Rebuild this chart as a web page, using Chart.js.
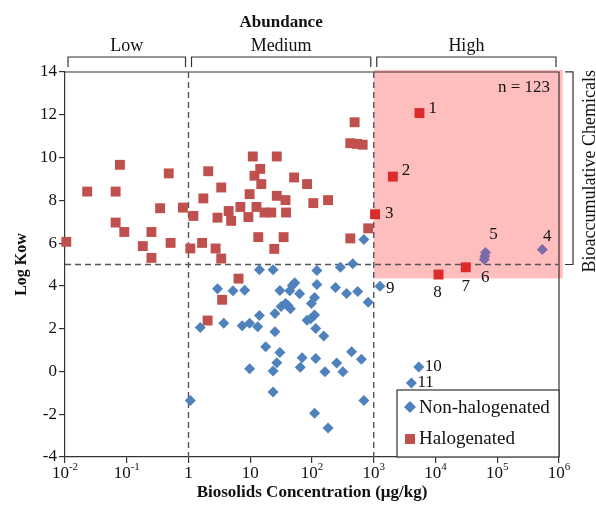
<!DOCTYPE html>
<html>
<head>
<meta charset="utf-8">
<script src="https://cdn.jsdelivr.net/npm/chart.js@4.4.1/dist/chart.umd.min.js"></script>
<style>
  body { margin: 0; background: #fff; }
  canvas { display: block; }
</style>
</head>
<body>
<canvas id="chart" width="596" height="510"></canvas>
<script>
"use strict";

// Non-halogenated chemicals (biosolids concentration in ug/kg, log Kow)
const nonHalConc = [14.1, 23.4, 120, 288, 457, 692, 2.95, 5.25, 8.13, 30.2, 43.7, 47.9,
  52.5, 63.1, 120, 240, 363, 550, 813, 110, 97.7, 31.6, 37.2, 40.7, 44.7, 25.1, 14.1,
  3.72, 1.55, 7.41, 9.77, 13.2, 25.1, 83.2, 95.5, 110, 115, 155, 17.8, 30.2, 26.9, 23.4,
  9.77, 69.2, 64.6, 115, 162, 251, 316, 437, 631, 23.4, 1.07, 692, 110, 182, 63100];
const nonHalLogKow = [4.76, 4.76, 4.72, 4.87, 5.03, 6.17, 3.87, 3.77, 3.80, 3.79, 3.77, 4.02,
  4.15, 3.63, 4.06, 3.93, 3.65, 3.74, 3.24, 3.46, 3.18, 3.04, 3.18, 3.08, 2.93, 2.71, 2.61,
  2.25, 2.05, 2.14, 2.25, 2.09, 1.86, 2.39, 2.46, 2.64, 2.01, 1.66, 1.15, 0.89, 0.41, 0.02,
  0.13, 0.64, 0.20, 0.60, -0.02, 0.39, -0.02, 0.92, 0.57, -0.96, -1.36, -1.36, -1.95, -2.64, 5.39];

// Halogenated chemicals
const halConc = [0.0105, 0.0229, 0.0661, 0.0776, 0.0661, 0.0912, 0.479, 0.347, 0.182, 0.251,
  0.251, 0.513, 0.813, 1.20, 1.07, 1.66, 1.74, 2.09, 3.39, 2.95, 4.47, 4.90, 2.75, 3.39,
  3.51, 2.04, 6.46, 11.0, 26.9, 14.5, 11.7, 15.1, 9.77, 6.92, 9.33, 12.6, 17.0, 21.9, 26.9,
  37.2, 38.0, 13.5, 34.7, 24.5, 51.3, 83.2, 105, 182, 490, 417, 537, 661, 417, 813];
const halLogKow = [6.06, 8.41, 8.41, 9.66, 6.96, 6.52, 9.26, 7.63, 5.86, 6.52,
  5.31, 6.01, 7.66, 7.27, 5.75, 6.01, 8.09, 9.36, 8.60, 7.19, 7.50, 7.04, 5.75, 5.28,
  3.35, 2.38, 4.34, 10.05, 10.05, 9.47, 9.15, 8.76, 8.29, 7.69, 7.22, 7.69, 7.43, 7.43, 8.21,
  8.01, 7.43, 6.28, 6.28, 5.73, 9.07, 8.76, 7.87, 8.01, 11.65, 10.67, 10.64, 10.60, 6.22, 6.69];

// Numbered chemicals
const numberedTags = ['1', '2', '3', '4', '5', '6', '7', '8', '9', '10', '11'];
const numberedGroup = ['hal', 'hal', 'hal', 'non', 'non', 'non', 'hal', 'hal', 'non', 'non', 'non'];
const numberedConc = [5500, 2040, 1050, 537000, 64600, 61700, 30900, 11200, 1260, 5370, 4070];
const numberedLogKow = [12.08, 9.11, 7.35, 5.70, 5.56, 5.23, 4.87, 4.53, 3.98, 0.21, -0.54];

const xTickValues = [0.01, 0.1, 1, 10, 100, 1000, 10000, 100000, 1000000];
const xTickExponents = ['-2', '-1', '', '', '2', '3', '4', '5', '6'];
const xTickBases = ['10', '10', '1', '10', '10', '10', '10', '10', '10'];

const abundanceLabels = ['Low', 'Medium', 'High'];
const abundanceBounds = [0.01, 1, 1000, 1000000];
const kowThreshold = 5;
const highRegion = { xMin: 1000, xMax: 1150000, yMin: 4.35, yMax: 14.1 };
const sampleCount = 'n = 123';

const SERIF = "'Liberation Serif', 'Times New Roman', serif";
const BLUE = '#4F81BD', RED = '#C0504D';
const BLUE_HIGH = '#7D6AA8', RED_HIGH = '#DC2A2A';

function points(conc, kow) {
  return conc.map((c, i) => ({ x: c, y: kow[i] }));
}

function numberedPoints(group) {
  let out = [];
  for (let i = 0; i < numberedTags.length; i++)
    if (numberedGroup[i] === group) out.push({ x: numberedConc[i], y: numberedLogKow[i] });
  return out;
}

function inHigh(p) {
  return p && p.x >= highRegion.xMin && p.y >= highRegion.yMin;
}

const tagOffsets = {
  '1': [9, -5, 'left'], '2': [9, -6, 'left'], '3': [10, -1, 'left'],
  '4': [5, -13, 'center'], '5': [8, -18, 'center'], '6': [1, 18, 'center'],
  '7': [0, 19, 'center'], '8': [-1, 18, 'center'], '9': [6, 2, 'left'],
  '10': [6, 0, 'left'], '11': [6, 0, 'left']
};

const decorations = {
  id: 'decorations',
  beforeDatasetsDraw(chart) {
    const { ctx, chartArea: a, scales: { x, y } } = chart;
    ctx.save();
    // high abundance / bioaccumulative region
    const rx0 = x.getPixelForValue(highRegion.xMin), rx1 = x.getPixelForValue(highRegion.xMax);
    const ry0 = y.getPixelForValue(highRegion.yMax), ry1 = y.getPixelForValue(highRegion.yMin);
    ctx.fillStyle = '#FFBEBE';
    ctx.fillRect(rx0, ry0, rx1 - rx0, ry1 - ry0);
    // frame
    ctx.strokeStyle = '#333';
    ctx.lineWidth = 1.2;
    ctx.beginPath();
    ctx.moveTo(a.left, a.top); ctx.lineTo(a.right, a.top); ctx.lineTo(a.right, a.bottom);
    ctx.stroke();
    // dashed thresholds
    ctx.strokeStyle = '#555';
    ctx.lineWidth = 1.4;
    ctx.setLineDash([6, 4]);
    ctx.beginPath();
    for (const v of [abundanceBounds[1], abundanceBounds[2]]) {
      const px = x.getPixelForValue(v);
      ctx.moveTo(px, a.top); ctx.lineTo(px, a.bottom);
    }
    const py = y.getPixelForValue(kowThreshold);
    ctx.moveTo(a.left, py); ctx.lineTo(a.right, py);
    ctx.stroke();
    ctx.restore();
  },
  afterDraw(chart) {
    const { ctx, chartArea: a, scales: { x, y } } = chart;
    ctx.save();
    ctx.fillStyle = '#111';
    ctx.strokeStyle = '#333';
    ctx.lineWidth = 1.2;

    // x tick labels with superscripts
    ctx.textBaseline = 'alphabetic';
    for (let i = 0; i < xTickValues.length; i++) {
      const px = x.getPixelForValue(xTickValues[i]);
      const base = xTickBases[i], exp = xTickExponents[i];
      ctx.font = '17px ' + SERIF;
      const wb = ctx.measureText(base).width;
      ctx.font = '11px ' + SERIF;
      const we = exp ? ctx.measureText(exp).width : 0;
      const left = px - (wb + we) / 2;
      ctx.font = '17px ' + SERIF;
      ctx.textAlign = 'left';
      ctx.fillText(base, left, a.bottom + 21);
      if (exp) {
        ctx.font = '11px ' + SERIF;
        ctx.fillText(exp, left + wb, a.bottom + 13);
      }
    }

    // numbered chemical tags
    ctx.font = '17px ' + SERIF;
    ctx.textBaseline = 'middle';
    for (let i = 0; i < numberedTags.length; i++) {
      const t = numberedTags[i];
      const off = tagOffsets[t];
      ctx.textAlign = off[2];
      ctx.fillText(t, x.getPixelForValue(numberedConc[i]) + off[0],
                   y.getPixelForValue(numberedLogKow[i]) + off[1]);
    }

    // sample count
    ctx.textAlign = 'right';
    ctx.fillText(sampleCount, a.right - 9, a.top + 16);

    // abundance brackets along the top
    ctx.beginPath();
    for (let i = 0; i < abundanceLabels.length; i++) {
      const l = x.getPixelForValue(abundanceBounds[i]) + 3;
      const r = x.getPixelForValue(abundanceBounds[i + 1]) - 3;
      ctx.moveTo(l, a.top - 5); ctx.lineTo(l, a.top - 15);
      ctx.lineTo(r, a.top - 15); ctx.lineTo(r, a.top - 5);
    }
    ctx.stroke();
    ctx.textAlign = 'center';
    ctx.font = '18px ' + SERIF;
    for (let i = 0; i < abundanceLabels.length; i++) {
      const l = x.getPixelForValue(abundanceBounds[i]);
      const r = x.getPixelForValue(abundanceBounds[i + 1]);
      ctx.fillText(abundanceLabels[i], (l + r) / 2, a.top - 26);
    }
    ctx.font = 'bold 17px ' + SERIF;
    const midL = x.getPixelForValue(abundanceBounds[1]), midR = x.getPixelForValue(abundanceBounds[2]);
    ctx.fillText('Abundance', (midL + midR) / 2, a.top - 49);

    // bioaccumulative bracket on the right
    const bx = a.right + 14;
    const by0 = y.getPixelForValue(highRegion.yMax) + 2, by1 = y.getPixelForValue(kowThreshold);
    ctx.beginPath();
    ctx.moveTo(a.right + 6, by0); ctx.lineTo(bx, by0);
    ctx.lineTo(bx, by1); ctx.lineTo(a.right + 6, by1);
    ctx.stroke();
    ctx.save();
    ctx.translate(a.right + 31, (by0 + by1) / 2 + 3);
    ctx.rotate(-Math.PI / 2);
    ctx.font = '18px ' + SERIF;
    ctx.fillText('Bioaccumulative Chemicals', 0, 0);
    ctx.restore();

    // legend
    const lw = 162, lh = 67;
    const lx = a.right - lw, ly = a.bottom - lh;
    ctx.fillStyle = '#fff';
    ctx.fillRect(lx, ly, lw, lh);
    ctx.strokeRect(lx, ly, lw, lh);
    ctx.fillStyle = BLUE;
    ctx.beginPath();
    ctx.moveTo(lx + 13, ly + 11); ctx.lineTo(lx + 19, ly + 17);
    ctx.lineTo(lx + 13, ly + 23); ctx.lineTo(lx + 7, ly + 17);
    ctx.closePath(); ctx.fill();
    ctx.fillStyle = RED;
    ctx.fillRect(lx + 8, ly + 44, 10, 10);
    ctx.fillStyle = '#111';
    ctx.textAlign = 'left';
    ctx.font = '19px ' + SERIF;
    ctx.fillText('Non-halogenated', lx + 22, ly + 18);
    ctx.fillText('Halogenated', lx + 22, ly + 49);
    ctx.restore();
  }
};

const ctx = document.getElementById('chart').getContext('2d');
new Chart(ctx, {
  type: 'scatter',
  data: {
    datasets: [
      {
        label: 'Non-halogenated',
        data: points(nonHalConc, nonHalLogKow).concat(numberedPoints('non')),
        pointStyle: 'rectRot',
        pointRadius: 5.5,
        borderWidth: 0,
        backgroundColor: c => inHigh(c.raw) ? BLUE_HIGH : BLUE,
        clip: false
      },
      {
        label: 'Halogenated',
        data: points(halConc, halLogKow).concat(numberedPoints('hal')),
        pointStyle: 'rect',
        pointRadius: 7,
        borderWidth: 0,
        backgroundColor: c => inHigh(c.raw) ? RED_HIGH : RED,
        clip: false
      }
    ]
  },
  options: {
    responsive: false,
    animation: false,
    events: [],
    layout: { padding: { left: 0, right: 37, top: 72, bottom: 0 } },
    plugins: { legend: { display: false }, tooltip: { enabled: false } },
    scales: {
      x: {
        type: 'logarithmic',
        min: 0.01,
        max: 1000000,
        afterBuildTicks: s => { s.ticks = xTickValues.map(v => ({ value: v })); },
        afterFit: s => { s.height = 53; },
        ticks: { display: false },
        grid: { drawOnChartArea: false, drawTicks: true, tickLength: 6, color: '#333', lineWidth: 1.2 },
        border: { color: '#333', width: 1.2 },
        title: {
          display: true,
          text: 'Biosolids Concentration (μg/kg)',
          color: '#111',
          font: { family: SERIF, size: 17, weight: 'bold' },
          padding: { top: 0, bottom: 7 }
        }
      },
      y: {
        min: -4,
        max: 14,
        afterFit: s => { s.width = 65; },
        ticks: { stepSize: 2, color: '#111', padding: 2, font: { family: SERIF, size: 17 } },
        grid: { drawOnChartArea: false, drawTicks: true, tickLength: 6, color: '#333', lineWidth: 1.2 },
        border: { color: '#333', width: 1.2 },
        title: {
          display: true,
          text: 'Log Kow',
          color: '#111',
          font: { family: SERIF, size: 16, weight: 'bold' },
          padding: { top: 12, bottom: 0 }
        }
      }
    }
  },
  plugins: [decorations]
});
</script>
</body>
</html>
